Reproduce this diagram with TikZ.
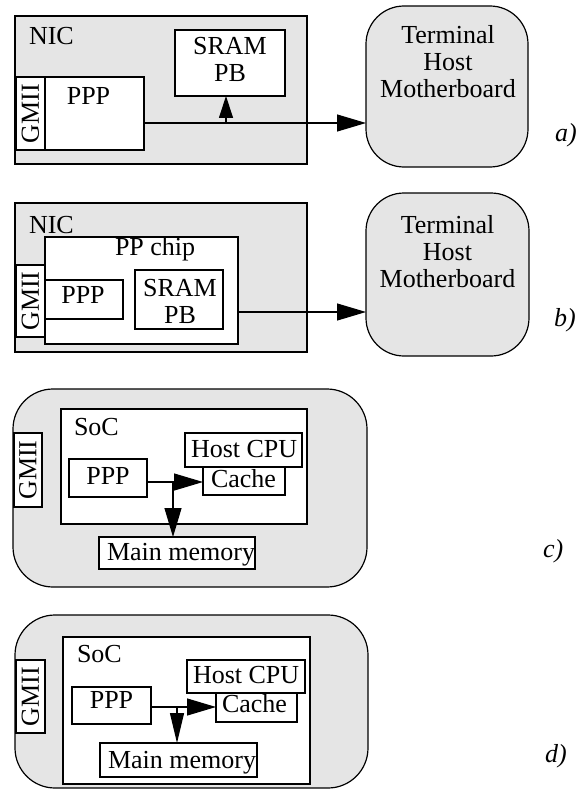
\documentclass[tikz,border=0pt]{standalone}
\usepackage{fontspec}
\setmainfont{Liberation Serif}
\usetikzlibrary{arrows.meta}
\definecolor{panel}{RGB}{229,229,229}
\tikzset{
  box/.style={draw, line width=1.2pt, fill=white, inner sep=0pt, outer sep=0pt, anchor=north west},
  graybox/.style={box, fill=panel},
  roundbox/.style={box, fill=panel, rounded corners=38pt},
  txt/.style={inner sep=0pt, outer sep=0pt},
  arr/.style={line width=1.2pt, -{Triangle[length=29pt,width=17pt]}},
  arrsmall/.style={line width=1.2pt, -{Triangle[length=22pt,width=14pt]}},
  arrnarrow/.style={line width=1.2pt, -{Triangle[length=30pt,width=14pt]}}
}
\begin{document}
\begin{tikzpicture}[x=1pt, y=-1pt, font=\fontsize{26}{27}\selectfont]
\useasboundingbox (0,0) rectangle (588,789);
% ---------- a) ----------
\node[graybox, minimum width=292pt, minimum height=148pt] (nicA) at (15,16) {};
\node[box, minimum width=29pt, minimum height=73pt] (gmiiA) at (16,77) {};
\node[box, minimum width=99pt, minimum height=73pt] (pppA) at (45,77) {};
\node[box, minimum width=110pt, minimum height=66pt] (sramA) at (175,30) {};
\node[roundbox, minimum width=162pt, minimum height=161pt] (termA) at (366,6) {};
\node[txt, anchor=base west] (nicAt) at (29,45) {NIC};
\node[txt, rotate=90] (gmiiAt) at (gmiiA.center) {GMII};
\node[txt, anchor=base] (pppAt) at (88.5,105) {PPP};
\node[txt, anchor=base, align=center] (sramAt) at (230,82) {SRAM\\PB};
\node[txt, anchor=base, align=center] (termAt) at (448,98) {Terminal\\Host\\Motherboard};
\node[txt, anchor=base west] (labA) at (555,141) {\itshape a)};
\coordinate (aY) at (0,123);
\coordinate (aBr) at (226,123);
\draw[arr] (pppA.east |- aY) -- (termA.west |- aY);
\draw[arrsmall] (aBr) -- (aBr |- sramA.south);
% ---------- b) ----------
\node[graybox, minimum width=292pt, minimum height=149pt] (nicB) at (15,203) {};
\node[box, minimum width=193pt, minimum height=107pt] (chipB) at (45,237) {};
\node[box, minimum width=29pt, minimum height=72pt] (gmiiB) at (16,265) {};
\node[box, minimum width=78pt, minimum height=39pt] (pppB) at (45,280) {};
\node[box, minimum width=88pt, minimum height=59pt] (sramB) at (135,270) {};
\node[roundbox, minimum width=163pt, minimum height=163pt] (termB) at (366,193) {};
\node[txt, anchor=base west] (nicBt) at (29,233) {NIC};
\node[txt, anchor=base west] (chipBt) at (115,255) {PP chip};
\node[txt, rotate=90] (gmiiBt) at (gmiiB.center) {GMII};
\node[txt, anchor=base] (pppBt) at (83,303) {PPP};
\node[txt, anchor=base, align=center] (sramBt) at (180,323) {SRAM\\PB};
\node[txt, anchor=base, align=center] (termBt) at (447.5,287) {Terminal\\Host\\Motherboard};
\node[txt, anchor=base west] (labB) at (554,326) {\itshape b)};
\coordinate (bY) at (0,312);
\draw[arr] (chipB.east |- bY) -- (termB.west |- bY);
% ---------- c) ----------
\node[roundbox, rounded corners=40pt, minimum width=354pt, minimum height=198pt] (outC) at (13,389) {};
\node[box, minimum width=246pt, minimum height=115pt] (socC) at (61,409) {};
\node[box, minimum width=28pt, minimum height=74pt] (gmiiC) at (14,433) {};
\node[box, minimum width=117pt, minimum height=34pt] (cpuC) at (185,433) {};
\node[box, minimum width=82pt, minimum height=28pt] (cacheC) at (203,467) {};
\node[box, minimum width=78pt, minimum height=38pt] (pppC) at (69,459) {};
\node[box, minimum width=156pt, minimum height=32pt] (memC) at (99,537) {};
\node[txt, anchor=base west] (socCt) at (74,435) {SoC};
\node[txt, rotate=90] (gmiiCt) at (gmiiC.center) {GMII};
\node[txt, anchor=base west] (cpuCt) at (191,457) {Host CPU};
\node[txt, anchor=base west] (cacheCt) at (211,487) {Cache};
\node[txt, anchor=base] (pppCt) at (108,484) {PPP};
\node[txt, anchor=base west] (memCt) at (107,560) {Main memory};
\node[txt, anchor=base west] (labC) at (543,557) {\itshape c)};
\coordinate (cY) at (0,482);
\coordinate (cBr) at (173,482);
\draw[arr] (pppC.east |- cY) -- (cacheC.west |- cY);
\draw[arr] (cBr) -- (cBr |- memC.north);
% ---------- d) ----------
\node[roundbox, rounded corners=40pt, minimum width=353pt, minimum height=173pt] (outD) at (15,615) {};
\node[box, minimum width=247pt, minimum height=147pt] (socD) at (63,637) {};
\node[box, minimum width=29pt, minimum height=73pt] (gmiiD) at (16,660) {};
\node[box, minimum width=118pt, minimum height=33pt] (cpuD) at (187,660) {};
\node[box, minimum width=81pt, minimum height=29pt] (cacheD) at (216,693) {};
\node[box, minimum width=79pt, minimum height=37pt] (pppD) at (72,687) {};
\node[box, minimum width=157pt, minimum height=34pt] (memD) at (100,743) {};
\node[txt, anchor=base west] (socDt) at (77,662) {SoC};
\node[txt, rotate=90] (gmiiDt) at (gmiiD.center) {GMII};
\node[txt, anchor=base west] (cpuDt) at (193,683) {Host CPU};
\node[txt, anchor=base west] (cacheDt) at (222,712) {Cache};
\node[txt, anchor=base] (pppDt) at (111.5,708) {PPP};
\node[txt, anchor=base west] (memDt) at (108,768) {Main memory};
\node[txt, anchor=base west] (labD) at (545,762) {\itshape d)};
\coordinate (dY) at (0,707);
\coordinate (dBr) at (177,707);
\draw[arr] (pppD.east |- dY) -- (cacheD.west |- dY);
\draw[arrnarrow] (dBr) -- (dBr |- memD.north);
\end{tikzpicture}
\end{document}
